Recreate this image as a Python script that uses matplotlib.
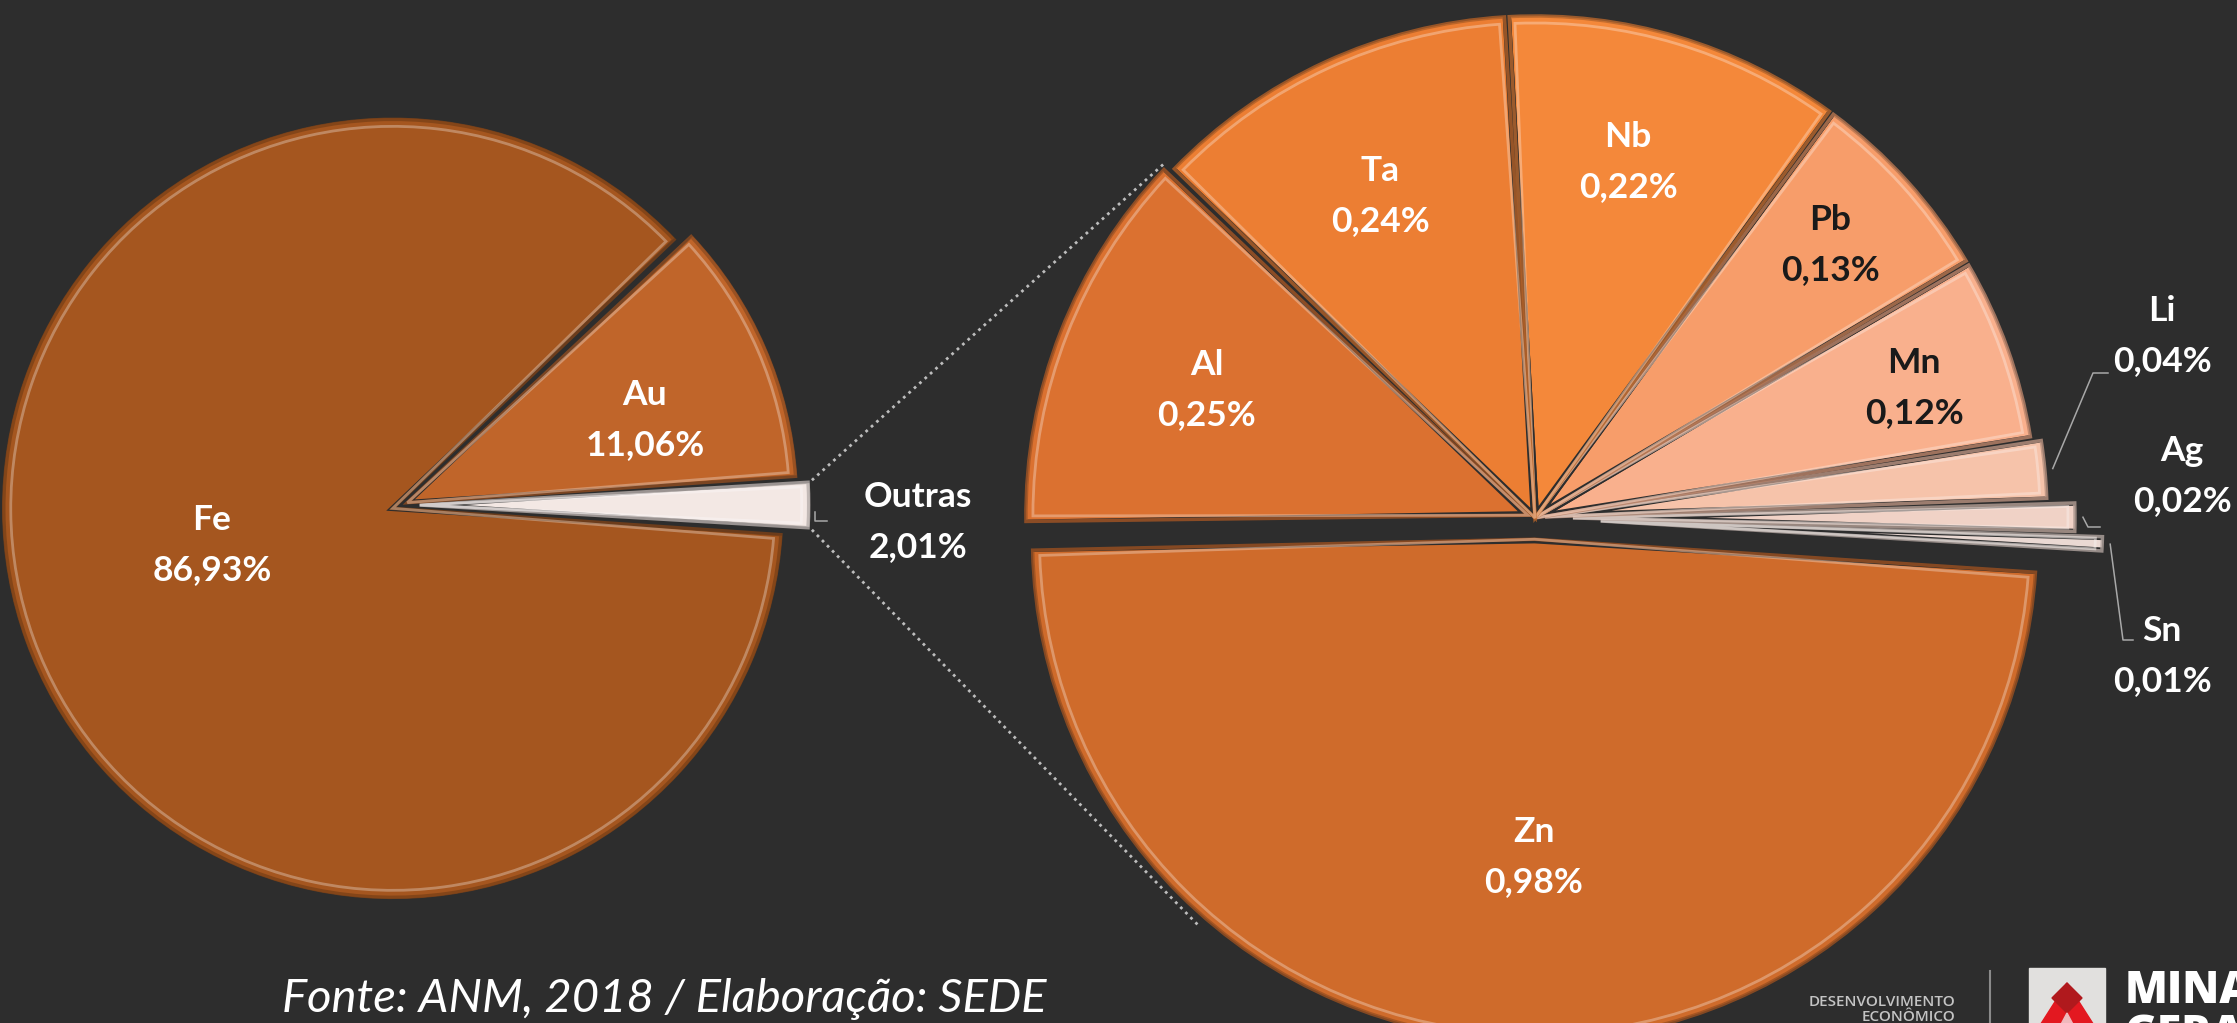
import numpy as np
import matplotlib.pyplot as plt
import matplotlib.colors as mcolors
from matplotlib.patches import Wedge, Polygon, Rectangle

W, H = 2237, 1023
bg = '#2d2d2d'

# primary pie
main_labels = ['Outras', 'Au', 'Fe']
main_values = [2.01, 11.06, 86.93]
main_colors = ['#f3e8e4', '#c0652a', '#a5561f']
main_explode = [0.045, 0.015, 0.025]

# breakdown of "Outras"
sub_labels = ['Sn', 'Ag', 'Li', 'Mn', 'Pb', 'Nb', 'Ta', 'Al', 'Zn']
sub_values = [0.01, 0.02, 0.04, 0.12, 0.13, 0.22, 0.24, 0.25, 0.98]
sub_colors = ['#ead9d3', '#f0d2c6', '#f6c3aa', '#f9b08d', '#f79d6a',
              '#f4883a', '#ec7e33', '#db7130', '#cf6b2b']
sub_explode = [0.13, 0.075, 0.02, 0.0, 0.0, 0.0, 0.0, 0.015, 0.042]

fonte = 'Fonte: ANM, 2018 / Elaboração: SEDE'

# label placement (pixel coords, y from top)
lab_pos = {'Fe': (212, 545), 'Au': (645, 420), 'Outras': (918, 522),
           'Al': (1207, 390), 'Ta': (1380, 196), 'Nb': (1628, 162),
           'Pb': (1830, 245), 'Mn': (1914, 388), 'Zn': (1534, 857),
           'Li': (2162, 336), 'Ag': (2182, 476), 'Sn': (2162, 656)}
# leader elbows, relative to the label centre: (elbow x, end x, y)
lead_off = {'Li': (-69, -54, 37), 'Ag': (-94, -82, 51), 'Sn': (-39, -29, -16)}
dark_text = ['Pb', 'Mn']

fig = plt.figure(figsize=(W / 100, H / 100), dpi=100, facecolor=bg)
ax = fig.add_axes([0, 0, 1, 1])
ax.set_facecolor(bg)

c_main, r_main = (402, H - 505), 393
c_sub, r_sub = (1535, H - 518), 506

# pie explode is in data units, so scale it by the radius
wm, _ = ax.pie(main_values, colors=main_colors,
               explode=[e * r_main for e in main_explode],
               startangle=-360 * main_values[0] / 100 / 2, radius=r_main,
               center=c_main, frame=True,
               wedgeprops=dict(edgecolor=bg, linewidth=4))
ws, _ = ax.pie(sub_values, colors=sub_colors,
               explode=[e * r_sub for e in sub_explode],
               startangle=-3.5, radius=r_sub, center=c_sub, frame=True,
               wedgeprops=dict(edgecolor=bg, linewidth=6))


def bevel(w, base):
    c = np.array(mcolors.to_rgb(base))
    light = c + (1 - c) * 0.5
    dark = c * 0.75
    cx, cy = w.center
    span = w.theta2 - w.theta1
    d = min(0.9, span * 0.15)
    ax.add_patch(Wedge((cx, cy), w.r - 4, w.theta1 + d * 0.3, w.theta2 - d * 0.3,
                       fill=False, ec=dark, lw=2.5, alpha=0.8, zorder=3))
    ax.add_patch(Wedge((cx, cy), w.r - 11, w.theta1 + d, w.theta2 - d,
                       fill=False, ec=light, lw=2.0, alpha=0.6, zorder=3))


for w, col in zip(wm, main_colors):
    bevel(w, col)
for w, col in zip(ws, sub_colors):
    bevel(w, col)


def fmt(v):
    return f'{v:.2f}'.replace('.', ',') + '%'


def polar(w, ang, rr):
    cx, cy = w.center
    return cx + rr * np.cos(np.radians(ang)), cy + rr * np.sin(np.radians(ang))


tkw = dict(ha='center', va='center', fontsize=25.5, fontweight='bold',
           family='Lato', zorder=5)
for labs, vals in ((main_labels, main_values), (sub_labels, sub_values)):
    for lab, v in zip(labs, vals):
        x, y = lab_pos[lab]
        col = '#1a1a1a' if lab in dark_text else 'white'
        ax.text(x, H - y + 25, lab, color=col, **tkw)
        ax.text(x, H - y - 25, fmt(v), color=col, **tkw)

# leader lines for the thin slices
lead = dict(color='#a8a8a8', lw=1.1, zorder=4)
w = wm[0]
x0, y0 = polar(w, -1.0, w.r + 2)
ax.plot([x0, x0, x0 + 12], [y0, y0 - 9, y0 - 9], **lead)
for lab in ('Li', 'Ag', 'Sn'):
    w = ws[sub_labels.index(lab)]
    mid = (w.theta1 + w.theta2) / 2
    x0, y0 = polar(w, mid, w.r + 4)
    tx, ty = lab_pos[lab]
    ex, ee, dy = lead_off[lab]
    ly = H - ty - dy
    ax.plot([x0, tx + ex, tx + ee], [y0, ly, ly], **lead)

# dotted connectors between the two pies
w = wm[0]
p_top = polar(w, w.theta2, w.r)
p_bot = polar(w, w.theta1, w.r)
q_top = polar(ws[sub_labels.index('Al')], 136, r_sub)
q_bot = polar(ws[sub_labels.index('Zn')], 229, r_sub + 6)
dot = dict(color='#bdbdbd', lw=2, ls=(0, (1, 1.6)), zorder=2)
ax.plot([p_top[0], q_top[0]], [p_top[1], q_top[1]], **dot)
ax.plot([p_bot[0], q_bot[0]], [p_bot[1], q_bot[1]], **dot)

# source note
ax.text(664, 11, fonte, ha='center', va='baseline', fontsize=34,
        family='Lato', fontstyle='italic', fontweight='normal', color='white')

# logo block
ax.text(1955, H - 1006, 'DESENVOLVIMENTO', ha='right', va='baseline',
        fontsize=11, family='Open Sans', fontweight='semibold', color='#c4c4c4')
ax.text(1955, H - 1021, 'ECONÔMICO', ha='right', va='baseline',
        fontsize=11, family='Open Sans', fontweight='semibold', color='#c4c4c4')
ax.plot([1990, 1990], [0, H - 971], color='#8a8a8a', lw=1.5)
ax.add_patch(Rectangle((2029, H - 1030), 76, 62, color='#e1e0de', zorder=2))
ax.add_patch(Polygon([(2067, H - 983), (2037, H - 1030), (2097, H - 1030)],
                     color='#e31820', zorder=3))
ax.add_patch(Polygon([(2067, H - 983), (2052, H - 998), (2067, H - 1013),
                      (2082, H - 998)], color='#b0191d', zorder=4))
ax.add_patch(Polygon([(2067, H - 1013), (2058, H - 1030), (2076, H - 1030)],
                     color='#efb9bd', zorder=4))
ax.text(2125, H - 1003, 'MINAS', ha='left', va='baseline', fontsize=32,
        family='Open Sans', fontweight='extra bold', color='white')
ax.text(2125, H - 1047, 'GERAIS', ha='left', va='baseline', fontsize=32,
        family='Open Sans', fontweight='extra bold', color='white')

ax.set_xlim(0, W)
ax.set_ylim(0, H)
ax.set_aspect('equal')
ax.axis('off')
fig.savefig('out.png', dpi=100, facecolor=bg)
